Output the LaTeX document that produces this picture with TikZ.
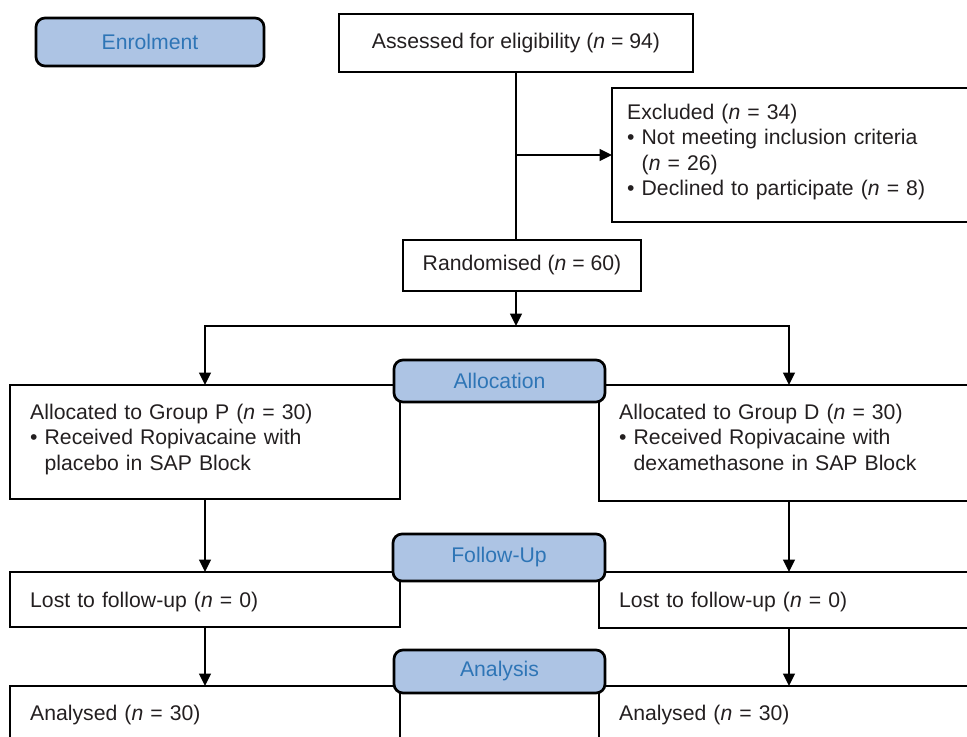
\documentclass[tikz,border=0pt]{standalone}
\usepackage{fontspec}
\setmainfont{Liberation Sans}
\usetikzlibrary{arrows.meta,calc}
\definecolor{lblfill}{RGB}{173,196,228}
\definecolor{lbltext}{RGB}{46,117,182}
\definecolor{ink}{RGB}{35,31,32}
\begin{document}
\begin{tikzpicture}[x=1bp,y=-1bp,
  every node/.style={font=\fontsize{21.2bp}{25.5bp}\selectfont, text=ink},
  box/.style={draw=black, line width=2.7bp, outer sep=0pt, inner sep=0pt, anchor=north west},
  lbl/.style={box, fill=lblfill, rounded corners=9bp, text=lbltext},
  txt/.style={anchor=base west, inner sep=0pt, align=left, text width=360bp},
  conn/.style={line width=2.6bp, draw=black},
  arr/.style={conn, -{Triangle[length=12.5bp,width=11.5bp]}}
]
\useasboundingbox (0,0) rectangle (967,737);
\clip (0,0) rectangle (967,737);

% boxes
\node[box, minimum width=354bp, minimum height=58bp] (assess) at (339,14) {Assessed for eligibility (\textit{n} = 94)};
\node[box, minimum width=370bp, minimum height=134bp] (excl) at (612,88) {};
\node[txt] (exclT) at (627,119) {Excluded (\textit{n} = 34)\\
  \textbullet\ Not meeting inclusion criteria\\
  \phantom{\textbullet\ }(\textit{n} = 26)\\
  \textbullet\ Declined to participate (\textit{n} = 8)};
\node[box, minimum width=238bp, minimum height=51bp] (rand) at (403,240) {Randomised (\textit{n} = 60)};

\node[box, minimum width=390bp, minimum height=114bp] (alloP) at (10,385) {};
\node[txt] (alloPT) at (30,419) {Allocated to Group P (\textit{n} = 30)\\
  \textbullet\ Received Ropivacaine with\\
  \phantom{\textbullet\ }placebo in SAP Block};
\node[box, minimum width=380bp, minimum height=116bp] (alloD) at (599,385) {};
\node[txt] (alloDT) at (619,419) {Allocated to Group D (\textit{n} = 30)\\
  \textbullet\ Received Ropivacaine with\\
  \phantom{\textbullet\ }dexamethasone in SAP Block};

\node[box, minimum width=390bp, minimum height=55bp] (lostP) at (10,572) {};
\node[txt] (lostPT) at (30,607) {Lost to follow-up (\textit{n} = 0)};
\node[box, minimum width=380bp, minimum height=56bp] (lostD) at (599,572) {};
\node[txt] (lostDT) at (619,607) {Lost to follow-up (\textit{n} = 0)};

\node[box, minimum width=390bp, minimum height=80bp] (anaP) at (10,686) {};
\node[txt] (anaPT) at (30,720) {Analysed (\textit{n} = 30)};
\node[box, minimum width=380bp, minimum height=80bp] (anaD) at (599,686) {};
\node[txt] (anaDT) at (619,720) {Analysed (\textit{n} = 30)};

% connectors
\path (assess.south) ++(0,254) coordinate (hub);
\coordinate (split) at (assess.south |- excl.west);
\draw[conn] (assess.south) -- (assess.south |- rand.north);
\draw[arr] (split) -- (excl.west);
\draw[arr] (assess.south |- rand.south) -- (hub);
\draw[conn, line cap=rect] (alloP.north |- hub) -- (alloD.north |- hub);
\draw[arr] (alloP.north |- hub) -- (alloP.north);
\draw[arr] (alloD.north |- hub) -- (alloD.north);
\draw[arr] (alloP.south) -- (lostP.north);
\draw[arr] (alloD.south) -- (lostD.north);
\draw[arr] (lostP.south) -- (anaP.north);
\draw[arr] (lostD.south) -- (anaD.north);

% stage labels
\node[lbl, minimum width=228bp, minimum height=48bp] (enrol) at (36,18) {Enrolment};
\node[lbl, minimum width=211bp, minimum height=42bp] (alloc) at (394,360) {Allocation};
\node[lbl, minimum width=212bp, minimum height=47bp] (follow) at (393,534) {Follow-Up};
\node[lbl, minimum width=211bp, minimum height=43bp] (analysis) at (394,650) {Analysis};
\end{tikzpicture}
\end{document}
